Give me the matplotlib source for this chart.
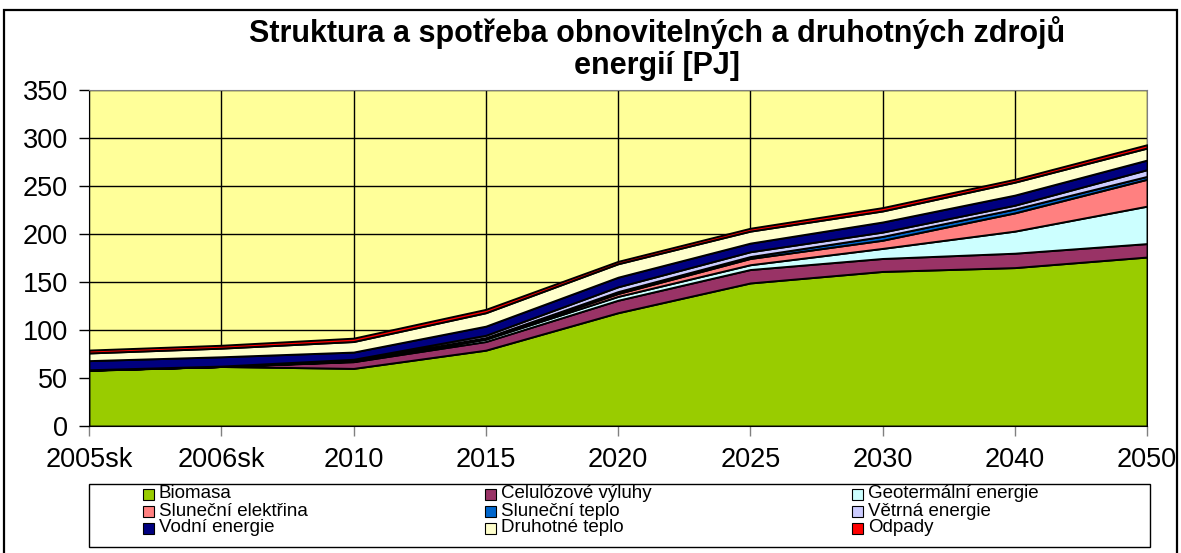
import matplotlib
matplotlib.use("Agg")
import matplotlib.pyplot as plt
from matplotlib.patches import Rectangle
import numpy as np

plt.rcParams['font.family'] = ['Liberation Sans', 'DejaVu Sans']

years = ["2005sk", "2006sk", "2010", "2015", "2020", "2025", "2030", "2040", "2050"]

biomasa     = [58, 62, 60, 79, 118, 149, 161, 165, 176]
celulozove  = [0.3, 0, 7, 9, 13, 14, 13.5, 15, 14]
geotermalni = [0, 0, 0.5, 2.5, 4, 5, 10.5, 23, 39]
slun_elekt  = [0, 0, 0.2, 0.5, 3, 6.5, 8.5, 19, 28]
slun_teplo  = [0.1, 0.1, 0.3, 1, 2, 2, 4, 4, 3]
vetrna      = [0.2, 0.3, 1.5, 2.5, 5, 5, 4.5, 4, 7]
vodni       = [9.5, 9.7, 7.5, 9.5, 10, 9, 10.5, 10.5, 10]
druhotne    = [8, 9, 11, 14, 14, 12.5, 11.5, 13.5, 12.5]
odpady      = [3, 3, 3.5, 3.5, 2.5, 3, 3.5, 3, 3.5]

names = ["Biomasa", "Celulózové výluhy", "Geotermální energie",
         "Sluneční elektřina", "Sluneční teplo", "Větrná energie",
         "Vodní energie", "Druhotné teplo", "Odpady"]
colors = ["#99CC00", "#993366", "#CCFFFF", "#FF8080", "#0066CC",
          "#CCCCFF", "#000080", "#FFFFCC", "#FF0000"]
series = [biomasa, celulozove, geotermalni, slun_elekt, slun_teplo,
          vetrna, vodni, druhotne, odpady]

W, H = 1181, 553
fig = plt.figure(figsize=(W / 100, H / 100), dpi=100)

# outer chart border
fig.patches.append(Rectangle((4 / W, -0.05), 1173 / W, 1 - 10 / H + 0.05,
                             transform=fig.transFigure, fill=False,
                             edgecolor="black", linewidth=1.6))

ax = fig.add_axes([89 / W, 1 - 426 / H, (1147 - 89) / W, (426 - 90) / H])
ax.set_facecolor("#FFFF99")

x = np.arange(len(years))
ax.stackplot(x, *series, colors=colors, edgecolor="black", linewidth=1.4, zorder=3)

ax.set_xlim(0, len(years) - 1)
ax.set_ylim(0, 350)
ax.set_yticks(range(0, 351, 50))
ax.set_xticks(x)
ax.set_xticklabels(years)
ax.grid(True, color="black", linewidth=1, zorder=1)
ax.set_axisbelow(True)

ax.tick_params(axis="both", labelsize=19.5, length=7, width=1, direction="out")
ax.tick_params(axis="y", pad=8)
ax.tick_params(axis="x", pad=8, color="#808080")
for s in ["top", "right"]:
    ax.spines[s].set_color("#808080")
ax.spines["left"].set_color("black")
ax.spines["bottom"].set_color("black")

fig.text(657 / W, 1 - 33 / H, "Struktura a spotřeba obnovitelných a druhotných zdrojů",
         ha="center", va="center", fontsize=22, fontweight="bold")
fig.text(657 / W, 1 - 66 / H, "energií [PJ]",
         ha="center", va="center", fontsize=22, fontweight="bold")

# legend box
fig.patches.append(Rectangle((89 / W, 1 - 547 / H), (1150 - 89) / W, 63 / H,
                             transform=fig.transFigure, facecolor="white",
                             edgecolor="black", linewidth=1))
col_x = [143, 485, 852]
row_y = [494, 511, 528]
for i, (name, c) in enumerate(zip(names, colors)):
    cx = col_x[i % 3]
    cy = row_y[i // 3]
    fig.patches.append(Rectangle((cx / W, 1 - (cy + 5.5) / H), 11 / W, 11 / H,
                                 transform=fig.transFigure, facecolor=c,
                                 edgecolor="black", linewidth=0.8))
    fig.text((cx + 16) / W, 1 - cy / H, name, ha="left", va="center", fontsize=13.5)

fig.savefig("out.png", dpi=100)
